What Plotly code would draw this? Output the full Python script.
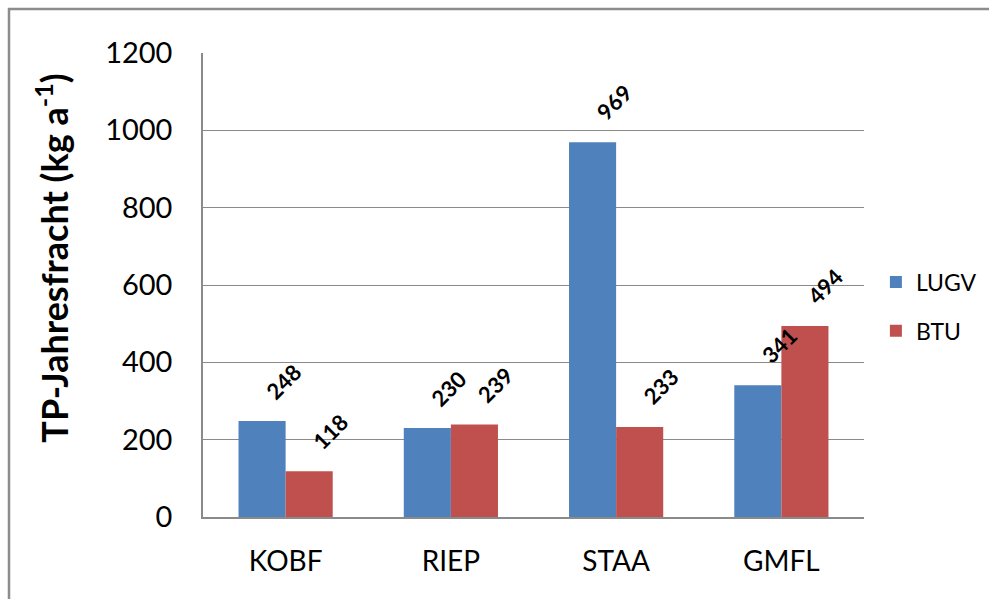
import plotly.graph_objects as go

stations = ["KOBF", "RIEP", "STAA", "GMFL"]
lugv = [248, 230, 969, 341]
btu = [118, 239, 233, 494]

blue = "#4F81BD"
red = "#C0504D"
grid = "#8a8a8a"

fig = go.Figure()
for name, vals, col in [("LUGV", lugv, blue), ("BTU", btu, red)]:
    fig.add_trace(go.Bar(
        x=stations, y=vals, name=name, legendgroup=name,
        marker=dict(color=col, line=dict(width=0)),
    ))

# value labels, rotated like the Excel ones, sitting above each bar
for vals, side in [(lugv, -1), (btu, 1)]:
    for st, v in zip(stations, vals):
        fig.add_annotation(
            x=st, y=v, text=str(v), showarrow=False, textangle=-45,
            xanchor="center", yanchor="middle",
            xshift=side * 23.5 + 21, yshift=40,
            font=dict(family="Lato", size=22, color="black", weight="bold"),
        )

# y title as annotation: in the original it sits a bit above the plot centre
fig.add_annotation(
    x=-0.229, y=0.558, xref="paper", yref="paper", showarrow=False,
    text="TP-Jahresfracht (kg a<sup>-1</sup>)", textangle=-90,
    xanchor="center", yanchor="middle",
    font=dict(family="Lato", size=36, color="black", weight="bold"),
)

fig.update_layout(
    width=989, height=599,
    margin=dict(l=203, r=125, t=53, b=82, autoexpand=False),
    paper_bgcolor="white", plot_bgcolor="white",
    barmode="group", bargap=0.43, bargroupgap=0,
    font=dict(family="Lato", color="black"),
    showlegend=True,
    legend=dict(x=1.018, y=0.4537, xanchor="left", yanchor="middle",
                font=dict(size=23), tracegroupgap=16, itemwidth=30,
                traceorder="grouped"),
    xaxis=dict(showline=True, linecolor=grid, linewidth=1.5, ticks="",
               tickfont=dict(size=28), ticklabelstandoff=19, automargin=False),
    yaxis=dict(range=[0, 1200], dtick=200, showgrid=True, gridcolor=grid, gridwidth=1.2,
               showline=True, linecolor=grid, linewidth=1.5, zeroline=False,
               tickfont=dict(size=29), ticks="", ticklabelstandoff=23, automargin=False),
    shapes=[dict(type="rect", xref="paper", yref="paper",
                 x0=-0.2935, x1=1.3, y0=-0.3, y1=1.0948,
                 line=dict(color="#8c8c8c", width=2.5), layer="below")],
)

fig.write_html("out.html", config={"displayModeBar": False},
               post_script="document.body.style.margin='0px';")
